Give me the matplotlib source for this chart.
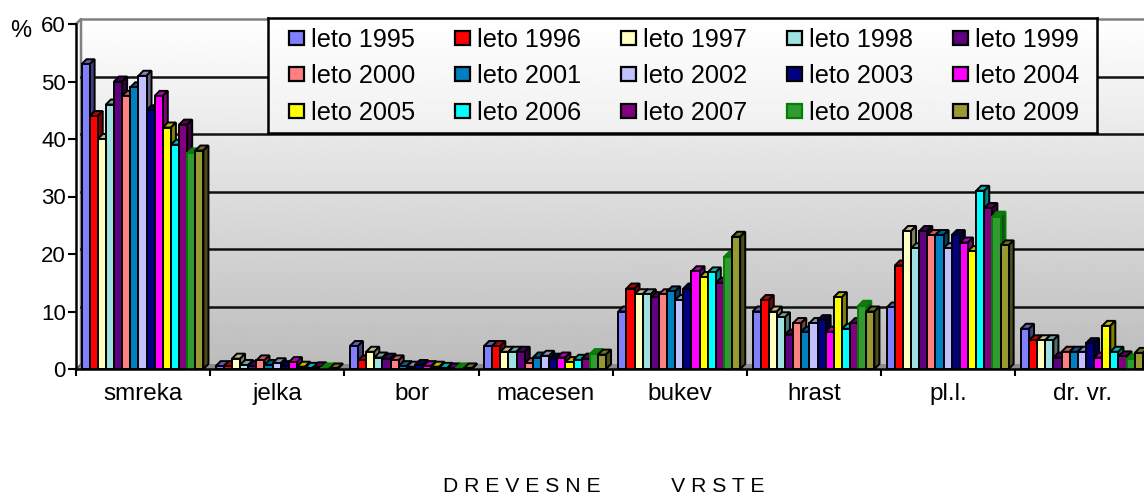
import numpy as np
import matplotlib
matplotlib.use('Agg')
import matplotlib.pyplot as plt
from matplotlib.colors import to_rgb
from matplotlib.patches import Rectangle

plt.rcParams['font.family'] = ['Liberation Sans', 'DejaVu Sans']

W, H = 1144, 495

categories = ['smreka', 'jelka', 'bor', 'macesen', 'bukev', 'hrast', 'pl.l.', 'dr. vr.']
years = ['leto %d' % y for y in range(1995, 2010)]
colors = ['#8080ff', '#ff0000', '#ffffc0', '#a0e0e0', '#600080',
          '#ff8080', '#0080c0', '#c0c0ff', '#000080', '#ff00ff',
          '#ffff00', '#00ffff', '#800080', '#339933', '#999933']

# one list per tree species, 1995..2009
smreka = [53, 44, 40, 46, 50, 47.5, 49, 51, 45, 47.5, 42, 39, 42.5, 37.5, 38]
jelka = [0.5, 0.5, 1.8, 0.7, 0.5, 1.5, 0.7, 1, 0.5, 1.2, 0.4, 0.2, 0.3, 0.1, 0.1]
bor = [4, 1.5, 3, 2, 1.8, 1.5, 0.5, 0.4, 0.7, 0.5, 0.4, 0.2, 0.1, 0.1, 0.1]
macesen = [4, 4, 3, 3, 3, 1, 2, 2.3, 1.8, 2, 1.2, 1.6, 1.8, 2.6, 2.5]
bukev = [10, 14, 13, 13, 12.5, 13, 13.5, 12, 14, 17, 16, 16.8, 15, 19.5, 23]
hrast = [10, 12, 10, 9, 6, 8, 6.5, 8, 8.5, 6.5, 12.5, 7, 8, 11, 10]
pll = [10.7, 18, 24, 21, 24, 23.3, 23.3, 21, 23.3, 22, 20.5, 31, 28, 26.5, 21.5]
drvr = [7, 5, 5, 5, 2, 3, 3, 3, 4.5, 2, 7.5, 3, 2.2, 1.7, 2.8]
values = [smreka, jelka, bor, macesen, bukev, hrast, pll, drvr]

# plot box in pixels
left, right, top, bottom = 76, W, 24, 369
cat_px = 134.2
fig = plt.figure(figsize=(W / 100, H / 100), dpi=100)
ax = fig.add_axes([left / W, (H - bottom) / H, (right - left) / W, (bottom - top) / H])
xmax = (right - left) / cat_px

# depth of the fake 3d, in data units
dx = 5 / cat_px
dy = 5 * 60 / (bottom - top)

# back wall with gradient
grad = np.linspace(1, 0.74, 256).reshape(-1, 1)
ax.imshow(grad, cmap='gray', vmin=0, vmax=1, aspect='auto', zorder=0, clip_on=False,
          extent=(dx, xmax, dy, 60 + dy))

# floor and wall edges
ax.fill([0, dx, xmax, xmax], [0, dy, dy, 0], color='#8c8c8c', zorder=1, lw=0)
ax.plot([0, dx, dx], [60, 60 + dy, dy], color='#808080', lw=1.8, zorder=1, clip_on=False)
ax.plot([dx, xmax], [60 + dy, 60 + dy], color='#808080', lw=1.8, zorder=1, clip_on=False)
for v in range(10, 60, 10):
    ax.plot([dx, xmax], [v + dy, v + dy], color='#111111', lw=1.8, zorder=1)
ax.plot([0, dx], [0, dy], color='#555555', lw=1, zorder=1)

bar_w = 8.13 / cat_px
start = 5.5 / cat_px
lw = 1.4
z = 2
for c, vals in enumerate(values):
    for i, v in enumerate(vals):
        x0 = c + start + i * bar_w
        x1 = x0 + bar_w
        col = np.array(to_rgb(colors[i]))
        edge = '#008000' if i == 13 else 'black'
        ax.fill([x0, x0 + dx, x1 + dx, x1], [v, v + dy, v + dy, v], facecolor=col * 0.72,
                edgecolor=edge, lw=lw, zorder=z, clip_on=False)
        ax.fill([x1, x1 + dx, x1 + dx, x1], [0, dy, v + dy, v], facecolor=col * 0.5,
                edgecolor=edge, lw=lw, zorder=z, clip_on=False)
        ax.bar(x0, v, bar_w, align='edge', color=col, edgecolor=edge, lw=lw, zorder=z + 0.5)
        z += 1

for s in ['top', 'right']:
    ax.spines[s].set_visible(False)
for s in ['left', 'bottom']:
    ax.spines[s].set_linewidth(1.8)
    ax.spines[s].set_zorder(z + 10)

ax.set_yticks(range(0, 61, 10))
ax.tick_params(axis='y', length=6, width=1.5, labelsize=16, pad=1.3)
ax.set_xticks(range(0, 8))
ax.set_xticklabels([])
ax.tick_params(axis='x', which='major', length=5, width=1.5)
ax.set_xticks(np.arange(len(categories)) + 0.5, minor=True)
ax.set_xticklabels(categories, minor=True, fontsize=17.5)
ax.tick_params(axis='x', which='minor', length=0, pad=10)
ax.set_xlim(0, xmax)
ax.set_ylim(0, 60)

fig.text(21 / W, 1 - 31 / H, '%', fontsize=17, ha='center', va='center')
fig.text(604 / W, 1 - 487 / H, 'D R E V E S N E' + ' ' * 12 + 'V R S T E', fontsize=15.2,
         ha='center', va='center')

# legend box, own axes in pixel coordinates
lx0, lx1, ly0, ly1 = 268, 1097, 18, 133
lax = fig.add_axes([lx0 / W, (H - ly1) / H, (lx1 - lx0) / W, (ly1 - ly0) / H], zorder=5)
lax.imshow(np.linspace(1, 0.94, 64).reshape(-1, 1), cmap='gray', vmin=0, vmax=1,
           aspect='auto', extent=(lx0, lx1, ly1, ly0))
lax.set_xlim(lx0, lx1)
lax.set_ylim(ly1, ly0)
lax.set_xticks([])
lax.set_yticks([])
for s in lax.spines.values():
    s.set_linewidth(1.8)
for i, (year, col) in enumerate(zip(years, colors)):
    row, column = divmod(i, 5)
    hx = 289 + column * 166
    hy = 31 + row * 36.3
    edge = '#008000' if i == 13 else 'black'
    lax.add_patch(Rectangle((hx, hy), 15, 14, facecolor=col, edgecolor=edge, lw=1.6))
    lax.text(hx + 22.5, hy + 16, year, fontsize=18.2, ha='left', va='baseline')

fig.savefig('out.png', dpi=100)
